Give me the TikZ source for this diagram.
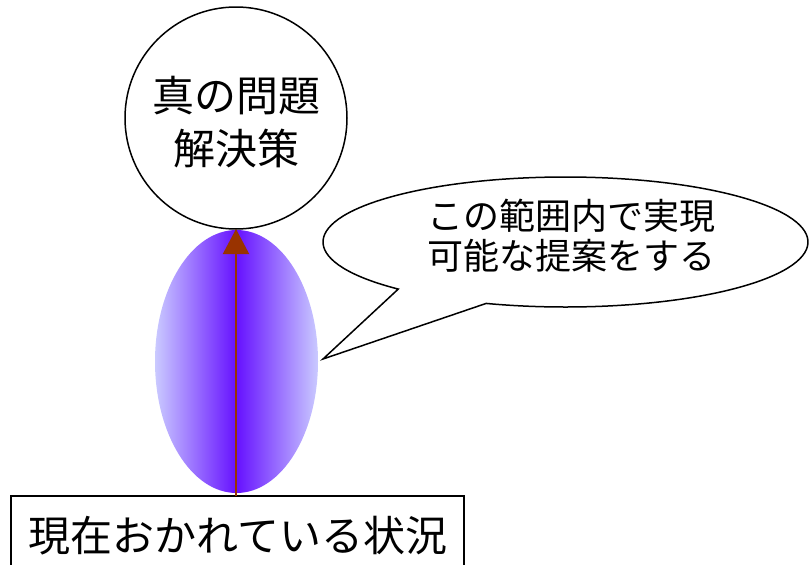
\documentclass[tikz,border=0pt]{standalone}
\usepackage{fontspec}
\setmainfont{Noto Sans CJK JP}
\usetikzlibrary{arrows.meta,shapes.geometric,calc}
\definecolor{edgeblue}{RGB}{202,202,255}
\definecolor{coreblue}{RGB}{102,17,255}
\definecolor{arrowred}{RGB}{153,51,0}
\begin{document}
\begin{tikzpicture}[x=1pt,y=-1pt,
  every node/.style={inner sep=0pt,outer sep=0pt},
  bigtext/.style={font=\fontsize{42}{53}\selectfont, align=center},
  bubbletext/.style={font=\fontsize{36}{40}\selectfont, align=center},
  outline/.style={draw=black, line width=1.5pt}]
\useasboundingbox (0,0) rectangle (809,565);
\clip (0,0) rectangle (809,565);
% shaded range ellipse
\node[ellipse, minimum width=163pt, minimum height=263pt,
  left color=edgeblue, right color=edgeblue, middle color=coreblue] (range) at (236.5,361.5) {};
% goal circle
\node[circle, outline, fill=white, minimum size=222pt] (goal) at (236,118) {};
\node[bigtext] (goaltext) at (236,122) {真の問題\\解決策};
% current situation box
\node[draw=black, line width=2pt, minimum width=453pt, minimum height=80pt] (box) at (237.5,536) {};
\node[bigtext] (boxtext) at (238,536) {現在おかれている状況};
% arrow
\draw[arrowred, line width=2pt, -{Triangle[width=26pt,length=25pt]}] (goal.south |- box.north) -- (goal.south);
% speech bubble
\coordinate (bc) at (565.5,242);
\coordinate (tip) at (323,359);
\draw[outline, fill=white] (tip) -- ($(bc)+(133.6:242.5 and 65)$)
  arc[start angle=133.6, end angle=469.1, x radius=242.5, y radius=65] -- cycle;
\node[bubbletext] (bubbletxt) at (571,236) {この範囲内で実現\\可能な提案をする};
\end{tikzpicture}
\end{document}
